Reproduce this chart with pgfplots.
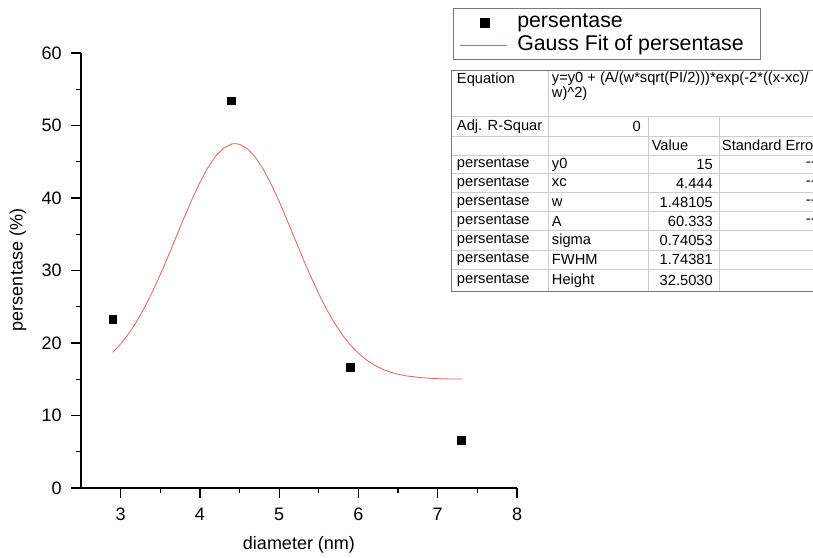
\documentclass[border=0pt]{standalone}
\usepackage{pgfplots}
\pgfplotsset{compat=1.18}
\usepackage{fontspec}
\setmainfont{Liberation Sans}
\definecolor{fitred}{RGB}{225,95,95}
\definecolor{gridgray}{RGB}{205,205,205}
\definecolor{boxgray}{RGB}{120,120,120}

\begin{document}
% coordinates below are in reference pixels (x right, y up from bottom)
\begin{tikzpicture}[x=0.75pt,y=0.75pt]
\clip (0,0) rectangle (813,557);
\path[use as bounding box] (0,0) rectangle (813,557);

\begin{axis}[
    at={(60.75pt,51.75pt)}, anchor=origin,
    scale only axis, width=327pt, height=326.25pt,
    xmin=2.5, xmax=8, ymin=0, ymax=60,
    axis lines=left, axis line style={-, line width=1pt},
    xtick={3,4,5,6,7,8}, ytick={0,10,20,30,40,50,60},
    minor tick num=1,
    tick align=outside,
    major tick length=7.5pt, minor tick length=4pt,
    every tick/.style={black, line width=1pt},
    tick label style={font=\fontsize{13.5}{15}\selectfont},
    /pgf/number format/assume math mode=true,
    xticklabel style={yshift=-4pt},
    yticklabel style={xshift=-3.5pt},
    clip=false,
]
\addplot[fitred, line width=0.6pt] coordinates {
 (2.9,18.70) (3.0,19.86) (3.1,21.26) (3.2,22.93) (3.3,24.86) (3.4,27.03)
 (3.5,29.42) (3.6,31.98) (3.7,34.62) (3.8,37.27) (3.9,39.82) (4.0,42.16)
 (4.1,44.18) (4.2,45.79) (4.3,46.89) (4.4,47.45) (4.444,47.50) (4.5,47.41)
 (4.6,46.79) (4.7,45.62) (4.8,43.96) (4.9,41.89) (5.0,39.52) (5.1,36.95)
 (5.2,34.30) (5.3,31.66) (5.4,29.13) (5.5,26.76) (5.6,24.61) (5.7,22.71)
 (5.8,21.08) (5.9,19.70) (6.0,18.57) (6.1,17.67) (6.2,16.95) (6.3,16.41)
 (6.4,15.99) (6.5,15.69) (6.6,15.47) (6.8,15.21) (7.0,15.08) (7.15,15.04)
 (7.3,15.02)};
\addplot[only marks, mark=square*, mark size=2.9pt, black] coordinates {
 (2.9,23.3) (4.4,53.4) (5.9,16.7) (7.3,6.6)};
\end{axis}

% axis titles
\node[font=\fontsize{13.5}{15}\selectfont] at (299,12) {diameter (nm)};
\node[font=\fontsize{13.5}{15}\selectfont, rotate=90] at (18,287) {persentase (\%)};

% legend
\draw[boxgray, line width=0.6pt] (453,498) rectangle (760,549);
\path[fill=black] (480,529) rectangle (490,539);
\draw[fitred, line width=0.6pt] (460,512) -- (507,512);
\node[anchor=west, inner sep=0pt, font=\fontsize{16}{18}\selectfont] at (517,534) {persentase};
\node[anchor=west, inner sep=0pt, font=\fontsize{16}{18}\selectfont] at (517,512) {Gauss Fit of persentase};

% parameter table
\begin{scope}[font=\fontsize{11}{13}\selectfont]
 % light interior lines
 \foreach \yy in {440.3,421,402,383.7,364.3,345.3,326.3,307,287.7}
   \draw[gridgray, line width=0.5pt] (451.7,\yy) -- (830,\yy);
 \draw[gridgray, line width=0.5pt] (548.3,487) -- (548.3,265.3);
 \draw[gridgray, line width=0.5pt] (648.3,440.3) -- (648.3,265.3);
 \draw[gridgray, line width=0.5pt] (719.3,440.3) -- (719.3,265.3);
 % outer border
 \draw[boxgray, line width=0.6pt] (830,487) -- (451.7,487) -- (451.7,265.3) -- (830,265.3);
 % equation row
 \node[anchor=west, inner sep=0pt] at (456.7,477) {Equation};
 \node[anchor=west, inner sep=0pt] at (551.7,478) {y=y0 + (A/(w*sqrt(PI/2)))*exp(-2*((x-xc)/};
 \node[anchor=west, inner sep=0pt] at (551.7,463.5) {w)\textasciicircum2)};
 \node[anchor=west, inner sep=0pt] at (456.7,430.7) {Adj. R-Squar};
 \node[anchor=east, inner sep=0pt] at (641,430.7) {0};
 \node[anchor=west, inner sep=0pt] at (651.5,411.5) {Value};
 \node[anchor=west, inner sep=0pt] at (721.7,411.5) {Standard Error};
 \foreach \yc/\p/\v/\e in {392.5/y0/15/-{}-, 374/xc/4.444/-{}-, 354.8/w/1.48105/-{}-, 335.8/A/60.333/-{}-,
     316.7/sigma/0.74053/, 297.3/FWHM/1.74381/, 276.5/Height/32.5030/} {
   \node[anchor=west, inner sep=0pt] at (456.7,\yc) {persentase};
   \node[anchor=west, inner sep=0pt] at (551.7,\yc) {\p};
   \node[anchor=east, inner sep=0pt] at (713,\yc) {\v};
   \node[anchor=east, inner sep=0pt] at (816,\yc) {\e};
 }
\end{scope}
\end{tikzpicture}
\end{document}
